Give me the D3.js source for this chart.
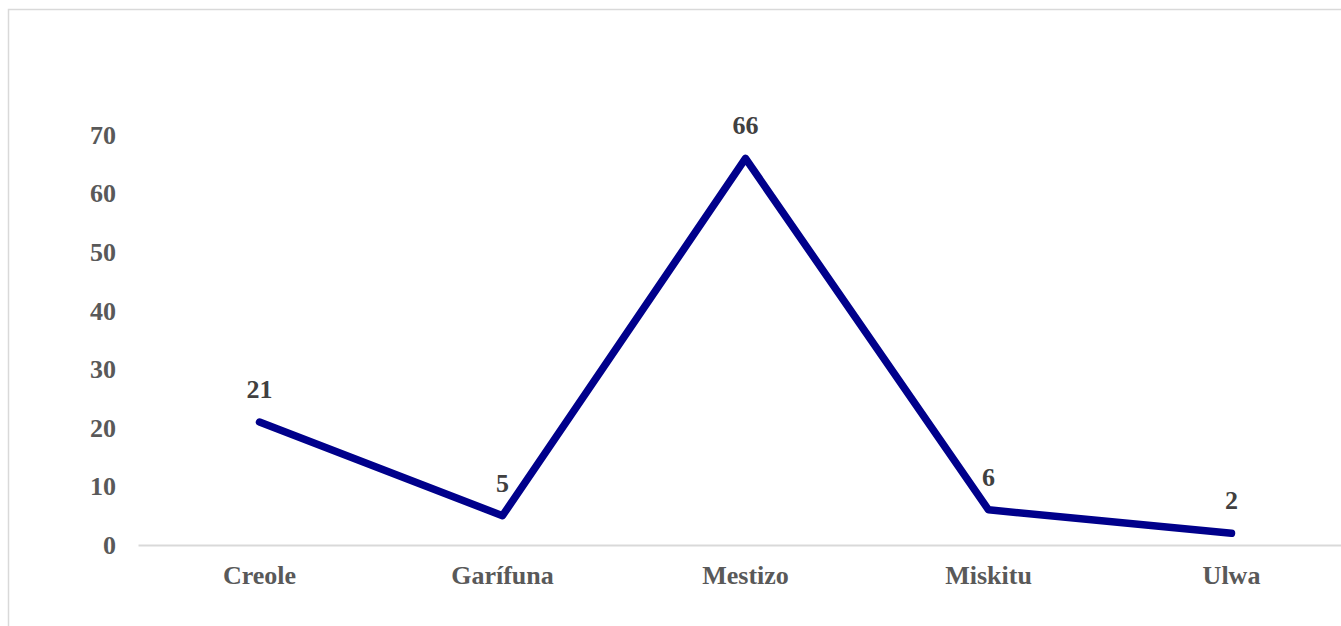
<!DOCTYPE html>
<html>
<head>
<meta charset="utf-8">
<script src="https://cdn.jsdelivr.net/npm/d3@7"></script>
<style>
  html, body { margin: 0; padding: 0; background: #fff; }
  svg { display: block; font-family: "Liberation Serif", "Times New Roman", serif; font-weight: bold; }
</style>
</head>
<body>
<svg id="chart" width="1341" height="626"></svg>
<script>
"use strict";

// chart data
const categories = ["Creole", "Garífuna", "Mestizo", "Miskitu", "Ulwa"];
const values = [21, 5, 66, 6, 2];
const yTicks = [0, 10, 20, 30, 40, 50, 60, 70];

const svg = d3.select("#chart");

// outer chart border (runs off the right/bottom edge like the original)
svg.append("rect")
  .attr("x", 8.5).attr("y", 9.5)
  .attr("width", 1345).attr("height", 630)
  .attr("fill", "none")
  .attr("stroke", "#d9d9d9")
  .attr("stroke-width", 1.5);

const x = d3.scaleBand()
  .domain(categories)
  .range([138, 1353]);

const y = d3.scaleLinear()
  .domain([0, 70])
  .range([545, 135]);

// y axis labels, no line
const yAxis = svg.append("g")
  .attr("transform", "translate(122,0)")
  .call(d3.axisLeft(y).tickValues(yTicks).tickSize(0).tickPadding(6));
yAxis.select(".domain").remove();
yAxis.selectAll("text")
  .attr("font-family", "'Liberation Serif', 'Times New Roman', serif")
  .attr("font-weight", "bold")
  .attr("font-size", 26)
  .attr("fill", "#595959");

// x axis baseline and category labels
const xAxis = svg.append("g")
  .attr("transform", `translate(0,${y(0)})`)
  .call(d3.axisBottom(x).tickSize(0).tickPadding(21));
xAxis.select(".domain")
  .attr("stroke", "#d9d9d9")
  .attr("stroke-width", 2);
xAxis.selectAll("text")
  .attr("font-family", "'Liberation Serif', 'Times New Roman', serif")
  .attr("font-weight", "bold")
  .attr("font-size", 26)
  .attr("fill", "#595959");

const cx = d => x(d) + x.bandwidth() / 2;

const line = d3.line()
  .x((d, i) => cx(categories[i]))
  .y(d => y(d));

svg.append("path")
  .datum(values)
  .attr("d", line)
  .attr("fill", "none")
  .attr("stroke", "#00008b")
  .attr("stroke-width", 7.5)
  .attr("stroke-linejoin", "round")
  .attr("stroke-linecap", "round");

// data labels
svg.append("g")
  .selectAll("text")
  .data(values)
  .join("text")
  .attr("x", (d, i) => cx(categories[i]))
  .attr("y", d => y(d) - 24)
  .attr("text-anchor", "middle")
  .attr("font-size", 26)
  .attr("fill", "#404040")
  .text(d => d);
</script>
</body>
</html>
